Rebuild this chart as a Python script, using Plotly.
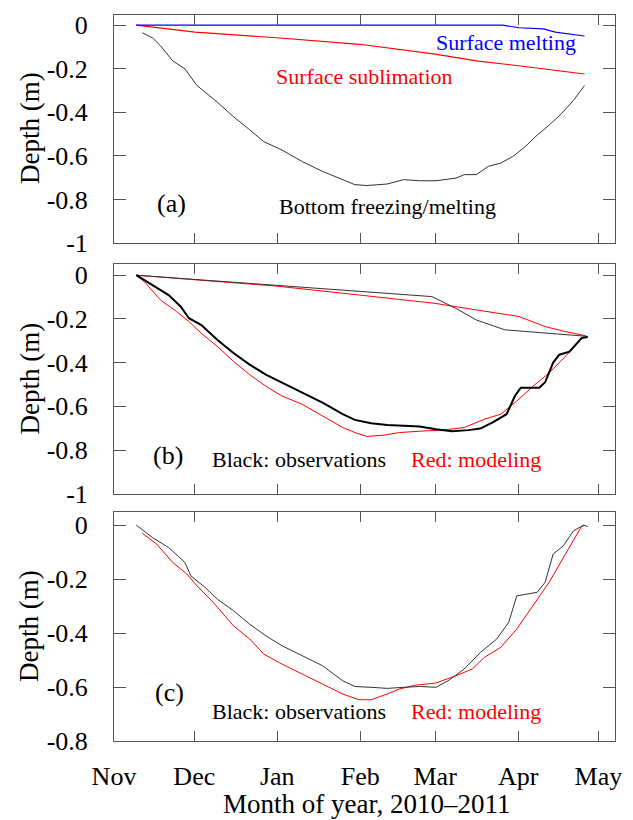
import plotly.graph_objects as go
import pandas as pd

# ---------------- data (days since 2010-11-01, depth in m) ----------------
START = "2010-11-01"

# Panel (a)
a_melt_days = [8.32, 145.2, 151.3, 160.4, 164.9, 175.8]
a_melt = [0, 0, -0.012, -0.017, -0.032, -0.05]

a_subl_days = [8.32, 30.26, 60.82, 91.83, 120.0, 135.4, 151.3, 175.8]
a_subl = [0, -0.032, -0.058, -0.088, -0.133, -0.164, -0.186, -0.224]

a_bot_days = [10.59, 14.37, 17.40, 21.94, 26.47, 31.01, 38.58, 44.63, 50.68, 55.98,
              62.78, 70.35, 77.91, 85.48, 90.02, 94.55, 102.1, 108.2, 114.2, 120.3,
              127.8, 130.9, 135.4, 139.9, 144.5, 149.0, 153.6, 158.1, 162.6, 167.2,
              171.7, 175.8]
a_bot = [-0.035, -0.058, -0.095, -0.164, -0.2, -0.277, -0.353, -0.42, -0.48, -0.535,
         -0.573, -0.626, -0.671, -0.709, -0.732, -0.736, -0.729, -0.709, -0.714, -0.714,
         -0.702, -0.686, -0.686, -0.648, -0.633, -0.603, -0.558, -0.505, -0.459, -0.406,
         -0.345, -0.277]

# Panel (b)
b_obs_top_days = [8.32, 118.8, 127.8, 135.4, 146.0, 177.0]
b_obs_top = [0, -0.098, -0.152, -0.205, -0.25, -0.28]

b_mod_top_days = [8.32, 60.82, 91.83, 120.0, 135.4, 151.3, 161.1, 168.7, 176.2]
b_mod_top = [0, -0.05, -0.091, -0.129, -0.159, -0.189, -0.235, -0.258, -0.277]

b_obs_bot_days = [8.32, 14.37, 20.42, 24.96, 27.99, 32.53, 38.58, 44.63, 50.68, 56.73,
                  62.78, 70.35, 77.91, 85.48, 90.02, 96.07, 102.1, 108.2, 114.2, 120.3,
                  126.3, 132.4, 136.9, 141.5, 146.7, 149.8, 152.0, 158.9, 161.1, 164.1,
                  166.4, 170.2, 174.7, 177.0]
b_obs_bot = [0, -0.045, -0.091, -0.144, -0.197, -0.227, -0.295, -0.356, -0.409, -0.455,
             -0.492, -0.538, -0.583, -0.636, -0.662, -0.677, -0.685, -0.689, -0.692, -0.705,
             -0.714, -0.709, -0.702, -0.674, -0.636, -0.553, -0.515, -0.515, -0.49, -0.40,
             -0.364, -0.35, -0.288, -0.283]

b_mod_bot_days = [8.32, 11.35, 17.40, 23.45, 27.99, 32.53, 38.58, 44.63, 50.68, 56.73,
                  62.78, 70.35, 77.91, 85.48, 90.02, 94.55, 100.6, 106.7, 114.2, 123.3,
                  130.9, 138.4, 144.5, 150.5, 156.6, 162.6, 168.7, 173.2, 175.8]
b_mod_bot = [0, -0.03, -0.114, -0.167, -0.212, -0.265, -0.326, -0.394, -0.455, -0.508,
             -0.553, -0.591, -0.644, -0.697, -0.72, -0.738, -0.732, -0.72, -0.714, -0.708,
             -0.697, -0.659, -0.636, -0.576, -0.508, -0.447, -0.371, -0.311, -0.277]

# Panel (c)
c_obs_days = [8.32, 14.37, 20.42, 26.47, 28.74, 34.04, 38.58, 44.63, 50.68, 56.73,
              62.78, 70.35, 77.91, 85.48, 90.02, 96.07, 102.1, 108.2, 114.2, 120.3,
              124.8, 130.9, 136.9, 143.0, 147.5, 150.5, 153.6, 158.1, 161.1, 164.1,
              167.9, 171.7, 175.5, 177.0]
c_obs = [0, -0.046, -0.083, -0.138, -0.188, -0.231, -0.274, -0.317, -0.367, -0.41,
         -0.447, -0.484, -0.521, -0.577, -0.598, -0.601, -0.605, -0.601, -0.598, -0.601,
         -0.577, -0.533, -0.472, -0.422, -0.36, -0.262, -0.256, -0.249, -0.212, -0.107,
         -0.077, -0.021, 0, -0.005]

c_mod_days = [10.59, 15.89, 21.94, 27.23, 31.01, 37.06, 44.63, 50.68, 55.98, 62.78,
              70.35, 77.91, 85.48, 91.53, 96.07, 102.1, 106.7, 112.7, 120.3, 127.8,
              133.9, 138.4, 144.5, 150.5, 156.6, 162.6, 168.7, 174.7, 175.8]
c_mod = [-0.03, -0.07, -0.138, -0.181, -0.225, -0.286, -0.373, -0.422, -0.478, -0.515,
         -0.552, -0.589, -0.626, -0.647, -0.647, -0.626, -0.607, -0.593, -0.585, -0.558,
         -0.533, -0.49, -0.453, -0.385, -0.299, -0.212, -0.107, -0.005, -0.002]

month_ticks = ["2010-11-01", "2010-12-01", "2011-01-01", "2011-02-01",
               "2011-03-01", "2011-04-01", "2011-05-01"]
month_labels = ["Nov", "Dec", "Jan", "Feb", "Mar", "Apr", "May"]

yticks_ab = [0, -0.2, -0.4, -0.6, -0.8, -1]
ylabels_ab = ["0", "-0.2", "-0.4", "-0.6", "-0.8", "-1"]
yticks_c = [0, -0.2, -0.4, -0.6, -0.8]
ylabels_c = ["0", "-0.2", "-0.4", "-0.6", "-0.8"]


def to_dates(days):
    s = pd.Timestamp(START)
    return [s + pd.Timedelta(days=d) for d in days]


# ---------------- figure ----------------
W, H = 633, 820
ML, MR, MT, MB = 114, 18, 11, 79
PW, PH = W - ML - MR, H - MT - MB

RED = "#ff0000"
BLK = "#333333"
BLUE = "#0000ff"
FONT = "Liberation Serif, Times New Roman, serif"

fig = go.Figure()


def line(days, vals, color, width, xa, ya):
    fig.add_trace(go.Scatter(x=to_dates(days), y=vals, mode="lines",
                             line=dict(color=color, width=width),
                             xaxis=xa, yaxis=ya, showlegend=False,
                             hoverinfo="skip"))


line(a_subl_days, a_subl, RED, 1.1, "x", "y")
line(a_melt_days, a_melt, BLUE, 1.1, "x", "y")
line(a_bot_days, a_bot, BLK, 1, "x", "y")

line(b_mod_top_days, b_mod_top, RED, 1, "x2", "y2")
line(b_obs_top_days, b_obs_top, BLK, 1, "x2", "y2")
line(b_mod_bot_days, b_mod_bot, RED, 1, "x2", "y2")
line(b_obs_bot_days, b_obs_bot, "#000000", 2, "x2", "y2")

line(c_mod_days, c_mod, RED, 1, "x3", "y3")
line(c_obs_days, c_obs, BLK, 1, "x3", "y3")


def pyd(p):  # pixel y -> paper, for axis domains
    return min(1.0, max(0.0, (H - MB - p) / PH))


def pya(p):  # pixel y -> paper, for annotations (may lie outside [0,1])
    return (H - MB - p) / PH


def px(p):  # pixel x -> paper
    return (p - ML) / PW


xrange_ = ["2010-11-01", "2011-05-07 05:00"]
axis_common = dict(showline=True, linecolor="#555555", linewidth=1, mirror="ticks",
                   ticks="inside", tickcolor="#555555", showgrid=False, zeroline=False,
                   tickfont=dict(family=FONT, size=26, color="black"))

xa = dict(axis_common, type="date", range=xrange_, tickmode="array",
          tickvals=month_ticks, ticktext=month_labels, ticklen=10)
ya = dict(axis_common, tickmode="array", ticklen=12, ticklabelstandoff=20)

domains = {
    "a": [pyd(241), pyd(11.7)],
    "b": [pyd(492.7), pyd(262.3)],
    "c": [pyd(741), pyd(510.7)],
}

fig.update_layout(
    width=W, height=H,
    margin=dict(l=ML, r=MR, t=MT, b=MB),
    paper_bgcolor="white", plot_bgcolor="white",
    font=dict(family=FONT, color="black"),
    xaxis=dict(xa, anchor="y", showticklabels=False),
    xaxis2=dict(xa, anchor="y2", showticklabels=False),
    xaxis3=dict(xa, anchor="y3", showticklabels=True, ticklabelstandoff=12),
    yaxis=dict(ya, anchor="x", domain=domains["a"], range=[-1, 0.048],
               tickvals=yticks_ab, ticktext=ylabels_ab),
    yaxis2=dict(ya, anchor="x2", domain=domains["b"], range=[-1, 0.05],
                tickvals=yticks_ab, ticktext=ylabels_ab),
    yaxis3=dict(ya, anchor="x3", domain=domains["c"], range=[-0.8, 0.05],
                tickvals=yticks_c, ticktext=ylabels_c),
)


def ann(text, x, y, size=22, color="black", angle=0):
    fig.add_annotation(text=text, x=px(x), y=pya(y), xref="paper", yref="paper",
                       showarrow=False, xanchor="center", yanchor="middle",
                       textangle=angle,
                       font=dict(family=FONT, size=size, color=color))


# panel (a)
ann("Surface melting", 506, 40, color=BLUE)
ann("Surface sublimation", 364, 74, color=RED)
ann("(a)", 171.5, 201.7, size=26)
ann("Bottom freezing/melting", 387, 204)
# panel (b)
ann("(b)", 168, 454.3, size=26)
ann("Black: observations", 299, 458.3)
ann("Red: modeling", 476, 458.3, color=RED)
# panel (c)
ann("(c)", 169.6, 692.3, size=26)
ann("Black: observations", 299, 711)
ann("Red: modeling", 475.5, 711, color=RED)

# axis titles
for yc in [126, 377.5, 626]:
    ann("Depth (m)", 29.5, yc, size=27, angle=-90)
ann("Month of year, 2010\u20132011", 366, 804, size=27)

fig.write_html("out.html")
